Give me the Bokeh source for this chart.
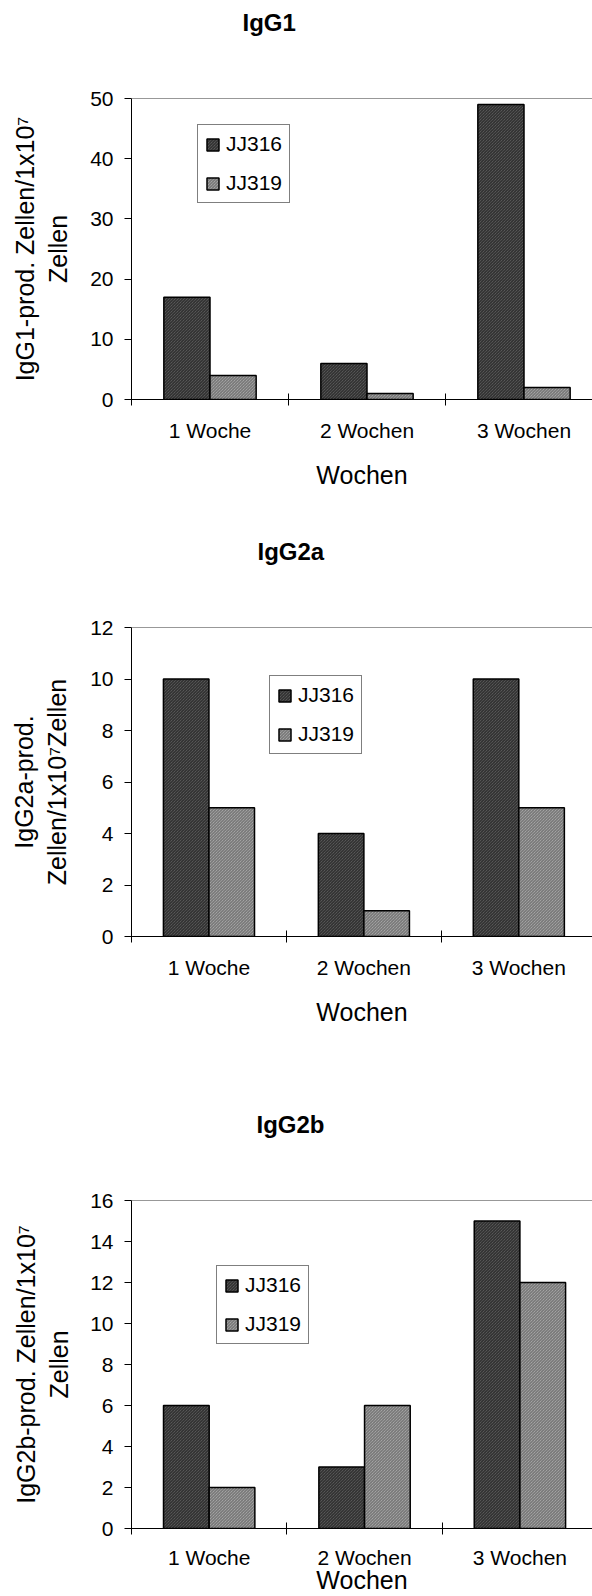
from bokeh.plotting import figure
from bokeh.models import (Range1d, FixedTicker, Span, Legend, LegendItem,
                          ColumnDataSource, Title)
from bokeh.layouts import column
from bokeh.embed import file_html
from bokeh.resources import INLINE

# ---- data -------------------------------------------------------------
weeks = ["1 Woche", "2 Wochen", "3 Wochen"]
series_names = ["JJ316", "JJ319"]

igg1_jj316 = [17, 6, 49]
igg1_jj319 = [4, 1, 2]
igg1_ticks = [0, 10, 20, 30, 40, 50]

igg2a_jj316 = [10, 4, 10]
igg2a_jj319 = [5, 1, 5]
igg2a_ticks = [0, 2, 4, 6, 8, 10, 12]

igg2b_jj316 = [6, 3, 15]
igg2b_jj319 = [2, 6, 12]
igg2b_ticks = [0, 2, 4, 6, 8, 10, 12, 14, 16]

FONT = "Liberation Sans"
BAR_W = 0.294

STYLE_316 = dict(fill_color="#6a6a6a", hatch_color="#222222")
STYLE_319 = dict(fill_color="#b8b8b8", hatch_color="#686868")


def panel(title, ylabel, ticks, v316, v319, height, top, bottom, left,
          cat_px, title_offset, legend_loc, ylab_standoff,
          cat_standoff=13, xlab_standoff=16):
    xend = (592 - left) / cat_px
    p = figure(width=592, height=height,
               x_range=Range1d(0, xend), y_range=Range1d(0, ticks[-1]),
               output_backend="svg", toolbar_location=None,
               min_border_left=left, min_border_right=0,
               min_border_top=top, min_border_bottom=bottom)
    p.outline_line_color = None
    p.grid.visible = False
    p.background_fill_color = "white"
    p.border_fill_color = "white"

    # heading (outermost panel above the frame)
    p.title.text = title
    p.title.align = "left"
    p.title.offset = title_offset
    p.title.standoff = 0
    p.title.vertical_align = "bottom"
    p.title.text_font = FONT
    p.title.text_font_size = "24px"
    p.title.text_font_style = "bold"
    p.title.text_color = "black"
    # blank panel between heading and frame
    p.add_layout(Title(text=" ", text_font_size="1px", standoff=60), "above")

    n = len(weeks)
    src = ColumnDataSource(dict(
        x316=[i + 0.5 - BAR_W / 2 for i in range(n)],
        x319=[i + 0.5 + BAR_W / 2 for i in range(n)],
        v316=v316, v319=v319))

    common = dict(width=BAR_W, bottom=0, source=src, line_color="black",
                  line_width=1.5, hatch_pattern="left_diagonal_line",
                  hatch_scale=3, hatch_weight=1)
    r1 = p.vbar(x="x316", top="v316", **STYLE_316, **common)
    r2 = p.vbar(x="x319", top="v319", **STYLE_319, **common)

    # top edge of the plotting area
    p.add_layout(Span(location=ticks[-1], dimension="width",
                      line_color="#333333", line_width=1))

    # x axis: labels at group centres, tick marks at group boundaries
    xa = p.xaxis[0]
    xa.ticker = FixedTicker(ticks=[i + 0.5 for i in range(n)],
                            minor_ticks=list(range(n + 1)))
    xa.major_label_overrides = {i + 0.5: w for i, w in enumerate(weeks)}
    xa.major_tick_line_color = None
    xa.major_tick_in = 0
    xa.major_tick_out = 0
    xa.minor_tick_in = 6
    xa.minor_tick_out = 6
    xa.minor_tick_line_color = "black"
    xa.axis_line_color = "black"
    xa.major_label_text_font = FONT
    xa.major_label_text_font_size = "21px"
    xa.major_label_text_color = "black"
    xa.major_label_standoff = cat_standoff
    xa.axis_label = "Wochen"
    xa.axis_label_text_font = FONT
    xa.axis_label_text_font_size = "25px"
    xa.axis_label_text_font_style = "normal"
    xa.axis_label_text_color = "black"
    xa.axis_label_standoff = xlab_standoff

    # y axis
    ya = p.yaxis[0]
    ya.ticker = FixedTicker(ticks=ticks, minor_ticks=[])
    ya.major_tick_in = 0
    ya.major_tick_out = 7
    ya.major_tick_line_color = "black"
    ya.minor_tick_line_color = None
    ya.axis_line_color = "black"
    ya.major_label_text_font = FONT
    ya.major_label_text_font_size = "21px"
    ya.major_label_text_color = "black"
    ya.major_label_standoff = 11
    ya.axis_label = ylabel
    ya.axis_label_text_font = FONT
    ya.axis_label_text_font_size = "25px"
    ya.axis_label_text_font_style = "normal"
    ya.axis_label_text_color = "black"
    ya.axis_label_standoff = ylab_standoff

    legend = Legend(items=[LegendItem(label=series_names[0], renderers=[r1]),
                           LegendItem(label=series_names[1], renderers=[r2])],
                    location=legend_loc, orientation="vertical")
    legend.label_text_font = FONT
    legend.label_text_font_size = "21px"
    legend.label_text_color = "black"
    legend.glyph_width = 15
    legend.glyph_height = 15
    legend.label_height = 20
    legend.label_standoff = 6
    legend.padding = 7
    legend.spacing = 15
    legend.margin = 0
    legend.border_line_color = "black"
    legend.border_line_width = 1
    legend.background_fill_color = "white"
    legend.background_fill_alpha = 1
    p.add_layout(legend)
    return p


p1 = panel("IgG1", "IgG1-prod. Zellen/1x10\u2077\nZellen", igg1_ticks,
           igg1_jj316, igg1_jj319, height=520, top=98, bottom=121,
           left=131, cat_px=157, title_offset=111, legend_loc=(66, 196),
           ylab_standoff=15)
p2 = panel("IgG2a", "IgG2a-prod.\nZellen/1x10\u2077Zellen", igg2a_ticks,
           igg2a_jj316, igg2a_jj319, height=525, top=107, bottom=109,
           left=129, cat_px=155.6, title_offset=126, legend_loc=(138, 182),
           ylab_standoff=16)
p3 = panel("IgG2b", "IgG2b-prod. Zellen/1x10\u2077\nZellen", igg2b_ticks,
           igg2b_jj316, igg2b_jj319, height=551, top=155, bottom=66,
           left=130, cat_px=155.7, title_offset=125, legend_loc=(85, 184),
           ylab_standoff=14, cat_standoff=11, xlab_standoff=-6)

layout = column(p1, p2, p3, spacing=0)
open("out.html", "w").write(file_html(layout, INLINE))
